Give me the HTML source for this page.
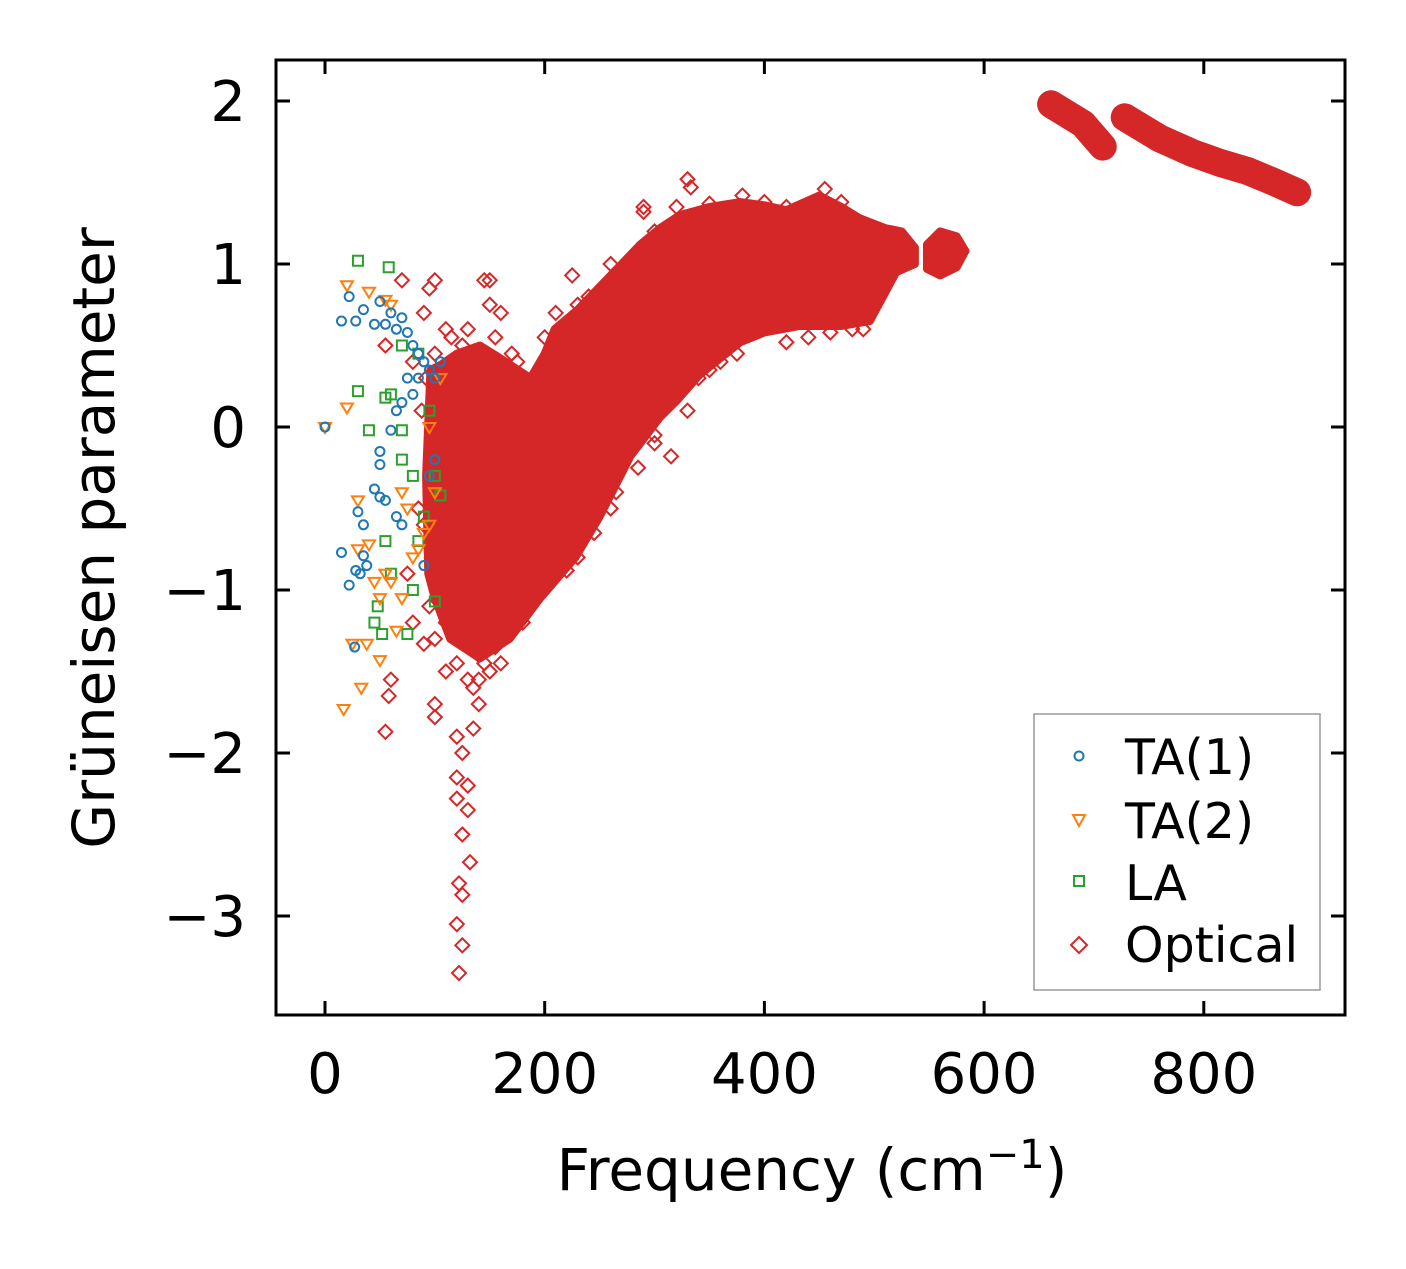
<!DOCTYPE html>
<html><head><meta charset="utf-8"><style>
body{margin:0;background:#fff;}
svg text{font-family:"DejaVu Sans","Liberation Sans",sans-serif;}
</style></head><body>
<svg id="chart" width="1406" height="1264" xmlns="http://www.w3.org/2000/svg">
<rect width="1406" height="1264" fill="#fff"/>
<g id="plot"></g>
<g id="axes"></g>
<text x="812" y="1190" font-size="58" text-anchor="middle">Frequency (cm<tspan dy="-22" font-size="40">−1</tspan><tspan dy="22">)</tspan></text>
<text transform="translate(114,538) rotate(-90)" font-size="58" text-anchor="middle">Grüneisen parameter</text>
<g>
<rect x="1034" y="714" width="286" height="276" fill="#fff" stroke="#999" stroke-width="1.5"/>
<circle cx="1079" cy="756" r="4.5" fill="none" stroke="#1f77b4" stroke-width="2"/>
<text x="1125" y="774" font-size="49">TA(1)</text>
<path d="M1073 815 L1085 815 L1079 826 Z" fill="none" stroke="#ff7f0e" stroke-width="2"/>
<text x="1125" y="838" font-size="49">TA(2)</text>
<rect x="1074" y="876" width="10" height="10" fill="none" stroke="#2ca02c" stroke-width="2"/>
<text x="1125" y="900" font-size="49">LA</text>
<path d="M1079 937 L1087 945 L1079 953 L1071 945 Z" fill="none" stroke="#d62728" stroke-width="2"/>
<text x="1125" y="962" font-size="49">Optical</text>
</g>
</svg>
<script>
const xTicks=[0,200,400,600,800];
const yTicks=[2,1,0,-1,-2,-3];
const yTickLabels=["2","1","0","−1","−2","−3"];
const cloudUpper=[[96,0.35],[105,0.38],[120,0.45],[141,0.5],[160,0.42],[187,0.3],[200,0.45],[209,0.6],[230,0.72],[250,0.86],[270,1.0],[287,1.12],[305,1.22],[323,1.3],[350,1.35],[378,1.38],[400,1.36],[420,1.33],[450,1.42],[470,1.35],[487,1.28],[510,1.22],[525,1.2],[537,1.1]];
const cloudLower=[[537,1.0],[520,0.95],[496,0.65],[470,0.62],[432,0.62],[400,0.58],[378,0.52],[341,0.32],[320,0.16],[305,0.06],[278,-0.18],[250,-0.55],[228,-0.8],[196,-1.05],[168,-1.3],[141,-1.42],[114,-1.3],[100,-1.05],[94,-0.9],[92,-0.3]];
const blob2=[[548,1.12],[560,1.2],[575,1.17],[583,1.08],[575,0.98],[560,0.93],[548,0.97]];
const band1=[[661,1.98],[690,1.86],[708,1.72]];
const band2=[[728,1.9],[760,1.77],[790,1.68],[815,1.62],[840,1.57],[865,1.5],[885,1.44]];
const ta1=[[0,0],[15,0.65],[22,0.8],[28,0.65],[35,0.72],[45,0.63],[50,0.77],[55,0.63],[60,0.7],[65,0.6],[70,0.67],[75,0.58],[80,0.5],[85,0.45],[90,0.4],[95,0.35],[100,0.3],[105,0.4],[60,-0.02],[65,0.1],[70,0.15],[75,0.3],[80,0.2],[85,0.3],[50,-0.15],[50,-0.23],[45,-0.38],[50,-0.43],[55,-0.45],[35,-0.6],[30,-0.52],[15,-0.77],[22,-0.97],[28,-0.88],[32,-0.9],[38,-0.85],[35,-0.79],[27,-1.35],[65,-0.55],[70,-0.6],[90,-0.85],[95,-0.3],[100,-0.2]];
const ta2=[[0,0],[20,0.87],[40,0.83],[55,0.78],[60,0.75],[20,0.12],[30,-0.45],[30,-0.75],[40,-0.72],[45,-0.95],[50,-1.05],[55,-0.9],[60,-0.95],[65,-1.25],[25,-1.33],[38,-1.33],[50,-1.43],[33,-1.6],[17,-1.73],[70,-1.05],[80,-0.8],[85,-0.75],[90,-0.65],[95,-0.6],[100,-0.4],[95,0.0],[105,0.3],[70,-0.4],[75,-0.5]];
const la=[[30,1.02],[58,0.98],[30,0.22],[40,-0.02],[70,-0.02],[60,0.2],[55,0.18],[45,-1.2],[48,-1.1],[52,-1.27],[55,-0.7],[60,-0.9],[70,-0.2],[80,-0.3],[85,-0.7],[90,-0.55],[100,-0.3],[100,-1.07],[75,-1.27],[80,-1.0],[95,0.1],[70,0.5],[85,0.45],[105,-0.42]];
const optical=[[55,0.5],[70,0.9],[60,-1.55],[58,-1.65],[55,-1.87],[100,-1.7],[100,-1.78],[120,-1.9],[125,-2.0],[135,-1.85],[130,-2.2],[125,-2.5],[130,-2.35],[120,-2.15],[120,-2.28],[122,-2.8],[125,-2.87],[132,-2.67],[120,-3.05],[125,-3.18],[122,-3.35],[140,-1.7],[140,-1.55],[150,0.9],[145,0.9],[100,0.9],[95,0.85],[225,0.93],[290,1.35],[290,1.32],[330,1.52],[333,1.47],[315,-0.18],[240,0.8],[230,0.75],[140,-1.4],[160,-1.45],[200,0.55],[120,-1.45],[260,1.0],[100,-1.3],[80,-1.2],[90,-1.33],[130,0.6],[160,0.7],[170,0.45],[240,-0.4],[210,-0.7],[350,1.37],[380,1.42],[455,1.46],[480,0.6],[400,1.38],[80,0.4],[85,-0.5],[90,0.7],[75,-0.9],[110,0.6],[110,-1.2],[150,-1.5],[180,-1.2],[195,-0.9],[260,-0.5],[230,-0.8],[150,0.75],[155,0.55],[175,0.4],[210,0.7],[220,0.5],[260,0.9],[280,1.05],[300,1.2],[320,1.35],[130,-1.55],[135,-1.6],[145,-1.45],[155,-1.35],[170,-1.25],[185,-1.1],[205,-0.95],[220,-0.88],[245,-0.65],[265,-0.4],[285,-0.25],[300,-0.1],[330,0.1],[350,0.35],[360,0.4],[375,0.45],[420,0.52],[440,0.55],[460,0.58],[490,0.6],[500,0.75],[420,1.35],[440,1.3],[470,1.38],[360,1.33],[300,-0.05],[110,-1.5],[95,-1.1],[90,-0.6],[88,0.1],[92,0.3],[100,0.45],[115,0.55],[125,0.5],[340,0.3],[320,0.22]];
const NS="http://www.w3.org/2000/svg";
const L=276,R=1345,T=60,B=1015;
const X=v=>325+v*1.0985;
const Y=v=>427-v*163;
const plot=document.getElementById('plot'),axes=document.getElementById('axes');
function mk(tag,at,parent){const e=document.createElementNS(NS,tag);for(const k in at)e.setAttribute(k,at[k]);parent.appendChild(e);return e;}
const cloud=mk('polygon',{points:cloudUpper.concat(cloudLower).map(p=>X(p[0])+','+Y(p[1])).join(' '),fill:'#d62728',stroke:'#d62728','stroke-width':8,'stroke-linejoin':'round'},plot);


const cloud2=mk('polygon',{points:blob2.map(p=>X(p[0])+','+Y(p[1])).join(' '),fill:'#d62728',stroke:'#d62728','stroke-width':8,'stroke-linejoin':'round'},plot);


[band1,band2].forEach(b=>{
const ln=mk('polyline',{points:b.map(p=>X(p[0])+','+Y(p[1])).join(' '),fill:'none',stroke:'#d62728','stroke-width':28,'stroke-linecap':'round','stroke-linejoin':'round'},plot);


});
optical.forEach(p=>{const x=X(p[0]),y=Y(p[1]);
const e=mk('path',{d:`M${x} ${y-7}L${x+7} ${y}L${x} ${y+7}L${x-7} ${y}Z`,fill:'none',stroke:'#d62728','stroke-width':2},plot);

});
la.forEach(p=>{const x=X(p[0]),y=Y(p[1]);
const e=mk('rect',{x:x-5,y:y-5,width:10,height:10,fill:'none',stroke:'#2ca02c','stroke-width':2},plot);

});
ta2.forEach(p=>{const x=X(p[0]),y=Y(p[1]);
const e=mk('path',{d:`M${x-6} ${y-4}L${x+6} ${y-4}L${x} ${y+6}Z`,fill:'none',stroke:'#ff7f0e','stroke-width':2},plot);

});
ta1.forEach(p=>{const e=mk('circle',{cx:X(p[0]),cy:Y(p[1]),r:4.5,fill:'none',stroke:'#1f77b4','stroke-width':2},plot);

});
const fr=mk('rect',{x:L,y:T,width:R-L,height:B-T,fill:'none',stroke:'#000','stroke-width':3},axes);


xTicks.forEach(v=>{const x=X(v);
mk('line',{x1:x,x2:x,y1:B,y2:B-14,stroke:'#000','stroke-width':3},axes);
mk('line',{x1:x,x2:x,y1:T,y2:T+14,stroke:'#000','stroke-width':3},axes);
const t=mk('text',{x:x,y:1093,'font-size':56,'text-anchor':'middle'},axes);t.textContent=v;

});
yTicks.forEach((v,i)=>{const y=Y(v);
mk('line',{x1:L,x2:L+14,y1:y,y2:y,stroke:'#000','stroke-width':3},axes);
mk('line',{x1:R,x2:R-14,y1:y,y2:y,stroke:'#000','stroke-width':3},axes);
const t=mk('text',{x:246,y:y+20,'font-size':56,'text-anchor':'end'},axes);t.textContent=yTickLabels[i];

});
</script>
</body></html>
